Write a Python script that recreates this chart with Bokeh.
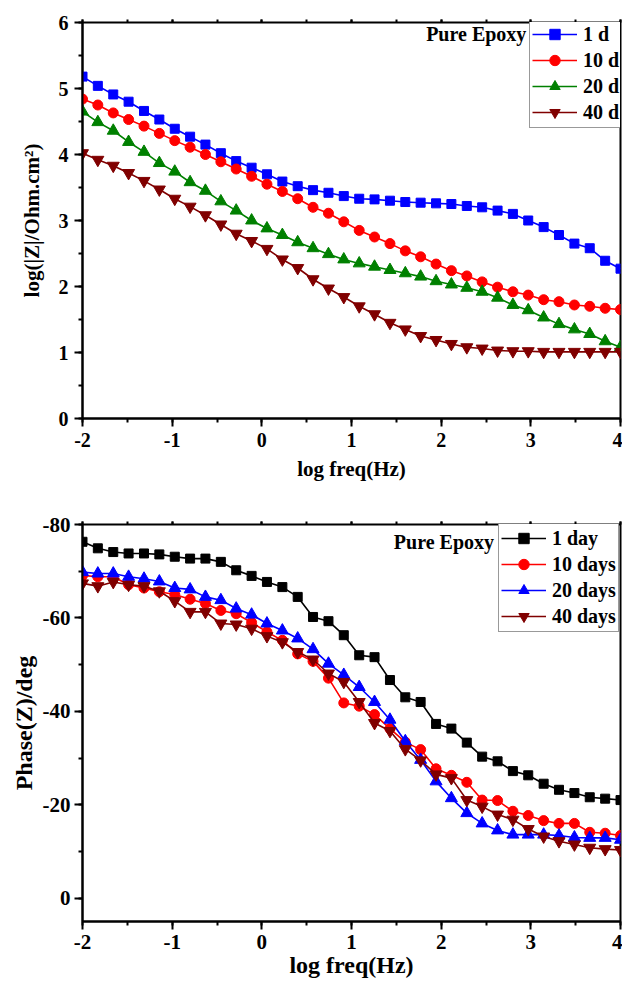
from bokeh.plotting import figure
from bokeh.layouts import column
from bokeh.models import (Range1d, SingleIntervalTicker, LinearAxis, Legend,
                          LegendItem, Label, CustomJSTickFormatter)
from bokeh.embed import file_html
from bokeh.resources import INLINE

# ---------------- data ----------------
log_freq = [-2.000, -1.829, -1.657, -1.486, -1.314, -1.143, -0.971, -0.800, -0.629,
            -0.457, -0.286, -0.114, 0.057, 0.229, 0.400, 0.571, 0.743, 0.914,
            1.086, 1.257, 1.429, 1.600, 1.771, 1.943, 2.114, 2.286, 2.457,
            2.629, 2.800, 2.971, 3.143, 3.314, 3.486, 3.657, 3.829, 4.000]

logz_1d = [5.18, 5.04, 4.91, 4.80, 4.66, 4.53, 4.39, 4.27, 4.15, 4.02, 3.90, 3.80,
           3.70, 3.59, 3.52, 3.46, 3.42, 3.37, 3.33, 3.32, 3.30, 3.28, 3.27, 3.26,
           3.25, 3.22, 3.20, 3.15, 3.10, 3.00, 2.90, 2.78, 2.65, 2.58, 2.39, 2.27]
logz_10d = [4.84, 4.75, 4.63, 4.53, 4.43, 4.32, 4.21, 4.11, 4.00, 3.89, 3.78, 3.67,
            3.55, 3.44, 3.33, 3.20, 3.11, 2.98, 2.85, 2.75, 2.65, 2.54, 2.45, 2.34,
            2.24, 2.16, 2.07, 1.99, 1.92, 1.87, 1.80, 1.77, 1.72, 1.70, 1.67, 1.65]
logz_20d = [4.65, 4.49, 4.36, 4.19, 4.04, 3.87, 3.74, 3.58, 3.45, 3.29, 3.15, 3.00,
            2.88, 2.78, 2.67, 2.58, 2.49, 2.41, 2.35, 2.30, 2.25, 2.20, 2.15, 2.08,
            2.03, 1.98, 1.92, 1.83, 1.72, 1.64, 1.53, 1.43, 1.35, 1.28, 1.17, 1.08]
logz_40d = [4.02, 3.92, 3.83, 3.72, 3.60, 3.47, 3.33, 3.21, 3.08, 2.94, 2.80, 2.69,
            2.57, 2.41, 2.28, 2.11, 1.97, 1.84, 1.70, 1.58, 1.45, 1.35, 1.25, 1.19,
            1.13, 1.08, 1.06, 1.03, 1.02, 1.02, 1.01, 1.01, 1.01, 1.01, 1.01, 1.01]

phase_1day = [-76.3, -74.9, -74.1, -73.8, -73.8, -73.6, -73.1, -72.7, -72.7, -72.0,
              -70.2, -69.0, -67.7, -66.6, -64.5, -60.2, -59.3, -56.3, -52.0, -51.6,
              -46.7, -43.0, -42.0, -37.3, -36.3, -33.3, -30.3, -29.3, -27.2, -26.3,
              -24.5, -23.2, -22.5, -21.6, -21.3, -21.0]
phase_10days = [-69.1, -68.8, -68.8, -67.1, -66.4, -65.6, -65.0, -64.0, -63.1, -61.6,
                -60.9, -59.0, -57.0, -55.2, -52.3, -50.7, -47.1, -41.8, -41.1, -39.3,
                -36.3, -33.4, -31.8, -27.7, -26.3, -24.8, -21.0, -20.9, -18.6, -17.7,
                -16.6, -16.0, -16.0, -14.1, -13.9, -13.4]
phase_20days = [-69.8, -69.5, -69.5, -68.8, -68.4, -67.8, -66.4, -66.1, -64.5, -63.8,
                -62.0, -60.7, -58.8, -57.3, -55.6, -53.3, -50.2, -47.8, -45.2, -42.0,
                -38.2, -33.6, -29.6, -25.0, -21.4, -18.2, -16.0, -14.5, -13.6, -13.6,
                -13.6, -13.4, -13.0, -12.9, -12.9, -12.5]
phase_40days = [-67.4, -66.8, -67.7, -67.1, -66.8, -65.7, -63.6, -61.3, -61.3, -58.8,
                -58.6, -57.7, -56.1, -54.8, -52.7, -51.1, -48.1, -46.3, -42.0, -37.5,
                -35.8, -31.9, -29.5, -26.5, -25.7, -21.0, -19.6, -17.9, -16.8, -14.8,
                -13.2, -12.2, -11.5, -10.8, -10.5, -10.3]

top_labels = ["1 d", "10 d", "20 d", "40 d"]
bottom_labels = ["1 day", "10 days", "20 days", "40 days"]

FONT = "Liberation Serif"


def style_axes(p, tick_size, xlabel_size, ylabel_size, x_lab_standoff, y_lab_standoff,
               x_tick_standoff, y_tick_standoff, yinterval):
    p.xaxis.ticker = SingleIntervalTicker(interval=1, num_minor_ticks=2)
    p.yaxis.ticker = SingleIntervalTicker(interval=yinterval, num_minor_ticks=2)
    for ax in (p.xaxis[0], p.yaxis[0]):
        ax.formatter = CustomJSTickFormatter(code="return tick.toFixed(0)")
        ax.axis_line_width = 2
        ax.axis_line_color = "black"
        ax.major_tick_line_width = 2
        ax.minor_tick_line_width = 2
        ax.major_tick_out = 8
        ax.major_tick_in = 0
        ax.minor_tick_out = 4
        ax.minor_tick_in = 0
        ax.major_label_text_font = FONT
        ax.major_label_text_font_style = "bold"
        ax.major_label_text_font_size = tick_size
        ax.major_label_text_color = "black"
        ax.axis_label_text_font = FONT
        ax.axis_label_text_font_style = "bold"
        ax.axis_label_text_color = "black"
    p.xaxis.axis_label_text_font_size = xlabel_size
    p.yaxis.axis_label_text_font_size = ylabel_size
    p.xaxis.axis_label_standoff = x_lab_standoff
    p.yaxis.axis_label_standoff = y_lab_standoff
    p.xaxis.major_label_standoff = x_tick_standoff
    p.yaxis.major_label_standoff = y_tick_standoff
    top = LinearAxis(ticker=SingleIntervalTicker(interval=1, num_minor_ticks=2),
                     formatter=CustomJSTickFormatter(code="return ''"))
    top.axis_line_color = None
    top.major_tick_out = 3
    top.major_tick_in = 0
    top.minor_tick_out = 3
    top.minor_tick_in = 0
    top.major_tick_line_width = 2
    top.minor_tick_line_width = 2
    top.major_label_standoff = 0
    p.add_layout(top, "above")
    p.xgrid.visible = False
    p.ygrid.visible = False
    p.outline_line_color = "black"
    p.outline_line_width = 2
    p.outline_line_alpha = 1


def make_legend(items, loc):
    lg = Legend(items=items, location=loc)
    lg.label_text_font = FONT
    lg.label_text_font_style = "bold"
    lg.label_text_font_size = "20px"
    lg.label_text_color = "black"
    lg.glyph_width = 45
    lg.glyph_height = 26
    lg.label_height = 26
    lg.label_standoff = 6
    lg.padding = 2
    lg.spacing = 0
    lg.margin = 0
    lg.border_line_color = "#333333"
    lg.border_line_width = 1.5
    lg.background_fill_color = "white"
    lg.background_fill_alpha = 1
    return lg


# ---------------- top: |Z| ----------------
p1 = figure(width=622, height=490, output_backend="svg", toolbar_location=None,
            x_range=Range1d(-2, 4), y_range=Range1d(0, 6),
            min_border_left=82, min_border_right=1, min_border_top=22,
            min_border_bottom=72,
            x_axis_label="log freq(Hz)", y_axis_label="log(|Z|/Ohm.cm²)")
style_axes(p1, "20px", "21px", "21px", 7, 12, 6, 6, 1)

top_series = [(logz_1d, "#0000FF", "square", 9),
              (logz_10d, "#FF0000", "circle", 10),
              (logz_20d, "#008000", "triangle", 12),
              (logz_40d, "#800000", "inverted_triangle", 12)]
items1 = []
for (ys, col, mk, sz), lab in zip(top_series, top_labels):
    ln = p1.line(log_freq, ys, line_color=col, line_width=1.6)
    sc = p1.scatter(log_freq, ys, marker=mk, size=sz, fill_color=col, line_color=col)
    items1.append(LegendItem(label=lab, renderers=[ln, sc]))
p1.add_layout(make_legend(items1, (447, 290)))
p1.add_layout(Label(x=2.95, y=5.83, text="Pure Epoxy", text_align="right",
                    text_baseline="middle", text_font=FONT, text_font_style="bold",
                    text_font_size="20px", text_color="black"))

# ---------------- bottom: phase ----------------
p2 = figure(width=622, height=494, output_backend="svg", toolbar_location=None,
            x_range=Range1d(-2, 4), y_range=Range1d(5, -80),
            min_border_left=80, min_border_right=2, min_border_top=34,
            min_border_bottom=63,
            x_axis_label="log freq(Hz)", y_axis_label="Phase(Z)/deg")
style_axes(p2, "21px", "24px", "24px", 0, 3, 5, 4, 20)

bottom_series = [(phase_1day, "#000000", "square", 9),
                 (phase_10days, "#FF0000", "circle", 10),
                 (phase_20days, "#0000FF", "triangle", 12),
                 (phase_40days, "#800000", "inverted_triangle", 12)]
items2 = []
for (ys, col, mk, sz), lab in zip(bottom_series, bottom_labels):
    ln = p2.line(log_freq, ys, line_color=col, line_width=1.6)
    sc = p2.scatter(log_freq, ys, marker=mk, size=sz, fill_color=col, line_color=col)
    items2.append(LegendItem(label=lab, renderers=[ln, sc]))
p2.add_layout(make_legend(items2, (416, 289)))
p2.add_layout(Label(x=2.59, y=-76.3, text="Pure Epoxy", text_align="right",
                    text_baseline="middle", text_font=FONT, text_font_style="bold",
                    text_font_size="20px", text_color="black"))

layout = column(p1, p2, spacing=0)
open("out.html", "w").write(file_html(layout, INLINE))
